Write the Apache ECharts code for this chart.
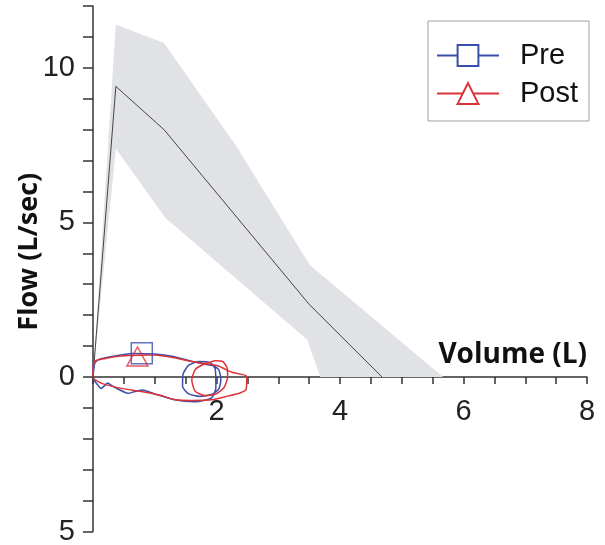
<!DOCTYPE html>
<html>
<head>
<meta charset="utf-8">
<script src="https://cdn.jsdelivr.net/npm/echarts@6/dist/echarts.min.js"></script>
<style>
html, body { margin: 0; padding: 0; background: #fff; }
#chart { width: 605px; height: 545px; }
</style>
</head>
<body>
<div id="chart"></div>
<script>
// predicted range (volume L, flow L/sec)
var bandUpper = [[0, 0], [0.37, 11.4], [1.15, 10.8], [2.33, 7.44], [3.51, 3.62], [5.67, 0]];
var bandLower = [[0, 0], [0.37, 7.38], [1.17, 5.15], [3.47, 1.2], [3.68, 0]];
var predicted = [[0, 0], [0.37, 9.4], [1.15, 8.0], [3.5, 2.35], [4.68, 0]];

// measured loops
var preLoop = [
    [0, 0], [0.03, 0.45], [0.1, 0.57], [0.24, 0.64], [0.45, 0.71], [0.65, 0.76], [1.0, 0.74],
    [1.3, 0.66], [1.55, 0.53], [1.78, 0.42], [1.95, 0.36], [2.04, 0.22], [2.07, -0.1],
    [2.04, -0.38], [1.93, -0.56], [1.73, -0.63], [1.55, -0.55], [1.45, -0.3], [1.46, 0.1],
    [1.55, 0.38], [1.72, 0.5], [1.9, 0.46], [1.98, 0.25], [1.99, -0.35], [1.92, -0.68],
    [1.65, -0.8], [1.32, -0.74], [1.0, -0.55], [0.8, -0.42], [0.68, -0.47], [0.57, -0.53],
    [0.32, -0.3], [0.24, -0.2], [0.13, -0.37], [0.06, -0.22], [0, -0.05]
];
var postLoop = [
    [0, 0], [0.02, 0.5], [0.2, 0.6], [0.46, 0.68], [1.0, 0.71], [1.32, 0.62], [1.6, 0.5],
    [1.82, 0.44], [1.98, 0.52], [2.1, 0.5], [2.17, 0.3], [2.18, 0], [2.12, -0.35],
    [1.98, -0.56], [1.8, -0.6], [1.65, -0.45], [1.6, -0.1], [1.66, 0.25], [1.82, 0.42],
    [2.02, 0.36], [2.25, 0.15], [2.49, 0.02], [2.48, -0.4], [2.38, -0.52], [2.18, -0.62],
    [1.95, -0.73], [1.6, -0.76], [1.32, -0.73], [1.1, -0.6], [0.78, -0.47], [0.46, -0.37],
    [0.13, -0.2], [0, -0.05]
];
var preMarker = [[0.79, 0.77]];
var postMarker = [[0.72, 0.66]];

var xTickLabels = [2, 4, 6, 8];
var yTickLabels = [-5, 0, 5, 10];

var blue = "#3a4eab";
var red = "#dc3339";

function pickLabel(list, v) {
    for (var i = 0; i < list.length; i++) {
        if (Math.abs(list[i] - Number(v)) < 1e-6) return String(Math.abs(list[i]));
    }
    return "";
}

var myChart = echarts.init(document.getElementById("chart"));

function renderBand(params, api) {
    var pts = bandUpper.concat(bandLower.slice().reverse()).map(function(p) {
        return api.coord(p);
    });
    return {
        type: "polygon",
        shape: { points: pts },
        style: { fill: "#e1e2e5" }
    };
}

var option = {
    animation: false,
    grid: { left: 93, right: 18, top: 6, bottom: 13.5, outerBoundsMode: "none" },
    legend: {
        data: ["Pre", "Post"],
        orient: "vertical",
        left: 428,
        top: 21,
        padding: [20, 11, 13, 8],
        itemWidth: 62,
        itemHeight: 26,
        itemGap: 9,
        borderColor: "#a0a0a0",
        borderWidth: 1,
        textStyle: {
            fontFamily: "Liberation Sans",
            fontSize: 29,
            lineHeight: 26,
            color: "#111",
            padding: [0, 0, 0, 16]
        }
    },
    xAxis: [
        {
            // tick labels only, lifted up to the zero line
            type: "value",
            min: 0,
            max: 8,
            interval: 2,
            position: "bottom",
            offset: -154.5,
            axisLine: { show: false, onZero: false },
            axisTick: { show: false },
            axisLabel: {
                margin: 20,
                fontFamily: "Liberation Sans",
                fontSize: 29,
                color: "#222",
                showMinLabel: true,
                showMaxLabel: true,
                formatter: function(v) {
                    return pickLabel(xTickLabels, v);
                }
            },
            splitLine: { show: false }
        },
        {
            type: "value",
            min: 0,
            max: 8,
            interval: 0.5,
            position: "top",
            name: "Volume (L)",
            nameLocation: "end",
            nameGap: 0,
            nameMoveOverlap: false,
            nameTextStyle: {
                fontFamily: "Open Sans",
                fontWeight: "bold",
                fontSize: 28,
                color: "#111",
                align: "right",
                verticalAlign: "bottom",
                padding: [0, 0, 8, 0]
            },
            axisLine: { onZero: true, lineStyle: { color: "#333", width: 1.5 } },
            axisTick: { inside: true, length: 7, lineStyle: { color: "#333", width: 1.5 } },
            axisLabel: { show: false },
            splitLine: { show: false }
        }
    ],
    yAxis: {
        type: "value",
        min: -5,
        max: 12,
        interval: 1,
        name: "Flow (L/sec)",
        nameLocation: "middle",
        nameGap: 50,
        nameMoveOverlap: false,
        nameTextStyle: {
            fontFamily: "Open Sans",
            fontWeight: "bold",
            fontSize: 27,
            color: "#111",
            padding: [0, 0, 0, 34]
        },
        axisLine: { show: true, lineStyle: { color: "#333", width: 1.5 } },
        axisTick: { length: 10, lineStyle: { color: "#333", width: 1.5 } },
        axisLabel: {
            margin: 18,
            fontFamily: "Liberation Sans",
            fontSize: 29,
            color: "#222",
            formatter: function(v) {
                return pickLabel(yTickLabels, v);
            }
        },
        splitLine: { show: false }
    },
    series: [
        {
            type: "custom",
            renderItem: renderBand,
            data: [[0, 0]],
            silent: true,
            z: 1
        },
        {
            type: "line",
            data: predicted,
            showSymbol: false,
            symbol: "none",
            lineStyle: { color: "#444", width: 1 },
            z: 2
        },
        {
            name: "Pre",
            type: "line",
            data: preLoop,
            symbol: "emptyRect",
            showSymbol: false,
            smooth: 0.2,
            lineStyle: { color: blue, width: 1.5 },
            itemStyle: { color: blue },
            z: 3
        },
        {
            name: "Post",
            type: "line",
            data: postLoop,
            symbol: "emptyTriangle",
            showSymbol: false,
            smooth: 0.2,
            lineStyle: { color: red, width: 1.5 },
            itemStyle: { color: red },
            z: 4
        },
        {
            type: "scatter",
            data: preMarker,
            symbol: "rect",
            symbolSize: 21,
            itemStyle: { color: "transparent", borderColor: blue, borderWidth: 1.5 },
            z: 5
        },
        {
            type: "scatter",
            data: postMarker,
            symbol: "triangle",
            symbolSize: [21, 19],
            itemStyle: { color: "transparent", borderColor: red, borderWidth: 1.5 },
            z: 5
        }
    ]
};

myChart.setOption(option);
</script>
</body>
</html>
